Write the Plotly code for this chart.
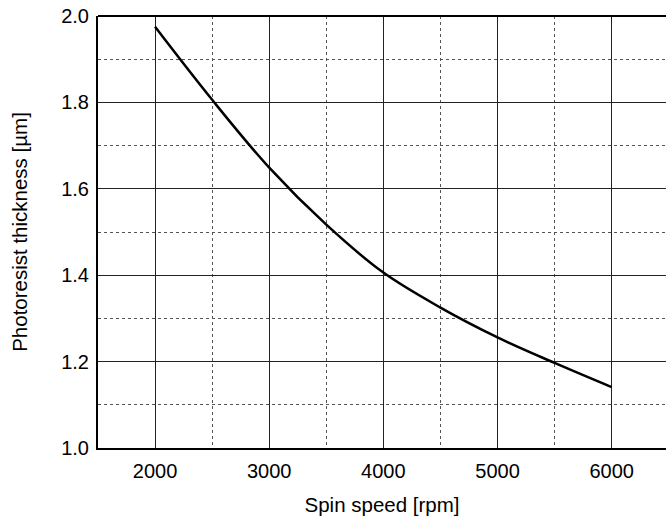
import plotly.graph_objects as go

spin_speed = [2000, 2500, 3000, 3500, 4000, 4500, 5000, 5500, 6000]
thickness = [1.975, 1.806, 1.649, 1.517, 1.406, 1.325, 1.256, 1.197, 1.141]

x_title = "Spin speed [rpm]"
y_title = "Photoresist thickness [µm]"

FONT = "Liberation Sans, Arial, sans-serif"

fig = go.Figure()
fig.add_trace(go.Scatter(
    x=spin_speed, y=thickness, mode="lines",
    line=dict(color="black", width=2.5, shape="spline", smoothing=1.0),
    hoverinfo="skip", showlegend=False,
))

fig.update_layout(
    width=666, height=524,
    margin=dict(l=98, r=0, t=16, b=75.5),
    paper_bgcolor="white", plot_bgcolor="white",
    font=dict(family=FONT, size=20, color="black"),
    xaxis=dict(
        range=[1500, 6476], tickvals=[2000, 3000, 4000, 5000, 6000],
        showgrid=True, gridcolor="#222", gridwidth=1,
        minor=dict(tickvals=[2500, 3500, 4500, 5500], showgrid=True,
                   gridcolor="#555", griddash="dot", gridwidth=1),
        showline=True, linecolor="black", linewidth=2,
        ticks="", ticklen=0, zeroline=False, ticklabelstandoff=4,
        title=dict(text=x_title, font=dict(size=20.5), standoff=17),
        tickfont=dict(size=20),
    ),
    yaxis=dict(
        range=[1.0, 2.0], tickvals=[1.0, 1.2, 1.4, 1.6, 1.8, 2.0],
        tickformat=".1f", ticklabeloverflow="allow",
        showgrid=True, gridcolor="#222", gridwidth=1,
        minor=dict(tickvals=[1.1, 1.3, 1.5, 1.7, 1.9], showgrid=True,
                   gridcolor="#555", griddash="dot", gridwidth=1),
        showline=True, linecolor="black", linewidth=2,
        ticks="", ticklen=0, zeroline=False, ticklabelstandoff=3,
        title=dict(text=y_title, font=dict(size=20.5), standoff=28),
        tickfont=dict(size=20),
    ),
    shapes=[dict(type="line", xref="paper", yref="paper", x0=0, x1=1, y0=1, y1=1,
                 line=dict(color="black", width=2))],
)

fig.write_html("out.html", config={"displayModeBar": False},
               post_script="document.body.style.margin='0';document.body.style.overflow='hidden';")
